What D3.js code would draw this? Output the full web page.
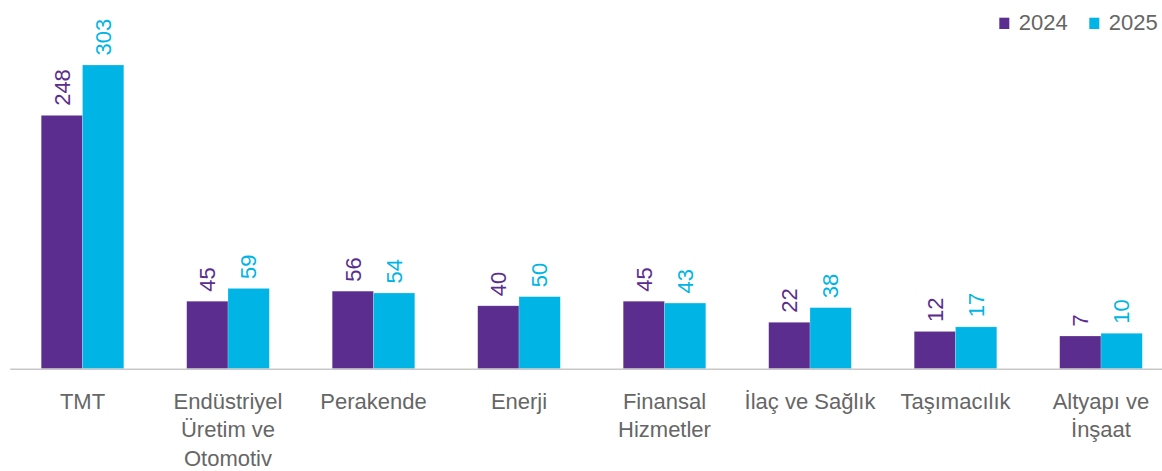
<!DOCTYPE html>
<html>
<head>
<meta charset="utf-8">
<script src="https://cdn.jsdelivr.net/npm/d3@7"></script>
<style>
  html, body { margin: 0; padding: 0; background: #fff; }
  svg { display: block; font-family: "Liberation Sans", Arial, sans-serif; }
</style>
</head>
<body>
<svg id="chart" width="1162" height="471"></svg>
<script>
const categories = ["TMT", "Endüstriyel Üretim ve Otomotiv", "Perakende", "Enerji", "Finansal Hizmetler", "İlaç ve Sağlık", "Taşımacılık", "Altyapı ve İnşaat"];
const categoryLines = [["TMT"], ["Endüstriyel", "Üretim ve", "Otomotiv"], ["Perakende"], ["Enerji"], ["Finansal", "Hizmetler"], ["İlaç ve Sağlık"], ["Taşımacılık"], ["Altyapı ve", "İnşaat"]];
const seriesNames = ["2024", "2025"];
const values2024 = [248, 45, 56, 40, 45, 22, 12, 7];
const values2025 = [303, 59, 54, 50, 43, 38, 17, 10];
const colors = ["#5b2d8e", "#00b5e5"];

const svg = d3.select("#chart");
const baseY = 368.7;

const x0 = d3.scaleBand().domain(categories).range([9.75, 1173.75]).paddingInner(0.4323).paddingOuter(0.2162);
const x1 = d3.scaleBand().domain(seriesNames).range([0, x0.bandwidth()]).padding(0);
const y = d3.scaleLinear().domain([-28.7, 303]).range([baseY, 65]);
const color = d3.scaleOrdinal().domain(seriesNames).range(colors);

const data = categories.map((c, i) => ({
  cat: c,
  vals: [{s: "2024", v: values2024[i]}, {s: "2025", v: values2025[i]}]
}));

const groups = svg.selectAll("g.grp").data(data).join("g")
  .attr("class", "grp")
  .attr("transform", d => `translate(${x0(d.cat)},0)`);

groups.selectAll("rect").data(d => d.vals).join("rect")
  .attr("x", d => x1(d.s))
  .attr("y", d => y(d.v))
  .attr("width", x1.bandwidth())
  .attr("height", d => baseY - y(d.v))
  .attr("fill", d => color(d.s))
  .attr("stroke", "rgba(255,255,255,0.35)")
  .attr("stroke-width", 0.6);

groups.selectAll("text.val").data(d => d.vals).join("text")
  .attr("class", "val")
  .attr("transform", d => `translate(${x1(d.s) + x1.bandwidth() / 2},${y(d.v) - 9.5}) rotate(-90)`)
  .attr("dy", "0.35em")
  .attr("text-anchor", "start")
  .attr("font-size", 22)
  .attr("fill", d => color(d.s))
  .text(d => d.v);

// axis baseline
const xAxis = d3.axisBottom(x0).tickSize(0).tickFormat("");
const axisG = svg.append("g").attr("transform", `translate(0,${baseY})`).call(xAxis);
axisG.select(".domain").attr("stroke", "#c8c8c8").attr("stroke-width", 1.5);

// category labels
const lab = svg.append("g");
categories.forEach((c, i) => {
  const t = lab.append("text")
    .attr("x", x0(c) + x0.bandwidth() / 2)
    .attr("y", 408.5)
    .attr("text-anchor", "middle")
    .attr("font-size", 22)
    .attr("fill", "#666666");
  categoryLines[i].forEach((ln, j) => {
    t.append("tspan")
      .attr("x", x0(c) + x0.bandwidth() / 2)
      .attr("dy", j === 0 ? 0 : 28.7)
      .text(ln);
  });
});

// legend
const legendX = [999.3, 1089.3];
const leg = svg.append("g");
seriesNames.forEach((s, i) => {
  leg.append("rect")
    .attr("x", legendX[i]).attr("y", 17.7)
    .attr("width", 10).attr("height", 11.3)
    .attr("fill", color(s));
  leg.append("text")
    .attr("x", legendX[i] + 19.4).attr("y", 30)
    .attr("font-size", 22)
    .attr("fill", "#666666")
    .text(s);
});
</script>
</body>
</html>
